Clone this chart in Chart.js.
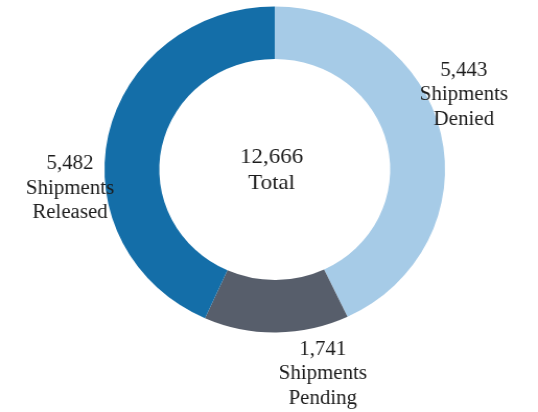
<!DOCTYPE html>
<html>
<head>
<meta charset="utf-8">
<script src="https://cdn.jsdelivr.net/npm/chart.js@4"></script>
<style>
    body { margin: 0; background: #fff; }
</style>
</head>
<body>
<canvas id="myChart" width="515" height="412" style="display:block;width:538px;height:412px"></canvas>
<script>
const categories = ['Shipments Denied', 'Shipments Pending', 'Shipments Released'];
const values = [5443, 1741, 5482];
const colors = ['#a6cbe7', '#575e6b', '#146ea8'];
const centerLabel = 'Total';

// label offsets from the ring centre, in canvas pixels
const labelOffsets = [[181, -74.5], [46, 204.5], [-196, 19]];

const total = values.reduce((a, b) => a + b, 0);
const fmt = n => n.toLocaleString('en-US');

const labelPlugin = {
    id: 'ringLabels',
    afterDraw(chart) {
        const c = chart.ctx;
        const arc = chart.getDatasetMeta(0).data[0];
        const cx = arc.x, cy = arc.y;
        c.save();
        c.fillStyle = '#1c1c1c';
        c.textAlign = 'center';
        c.textBaseline = 'middle';

        // centre text
        c.font = '22px "Liberation Serif"';
        c.fillText(fmt(total), cx - 3, cy - 12.5);
        c.fillText(centerLabel, cx - 3, cy + 13.5);

        // slice labels
        c.font = '20px "Liberation Serif"';
        categories.forEach((cat, i) => {
            const [dx, dy] = labelOffsets[i];
            const words = cat.split(' ');
            const lines = [fmt(values[i]), words[0], words[1]];
            lines.forEach((t, j) => {
                c.fillText(t, cx + dx, cy + dy + (j - 1) * 24.5);
            });
        });
        c.restore();
    }
};

new Chart(document.getElementById('myChart'), {
    type: 'doughnut',
    data: {
        labels: categories,
        datasets: [{
            data: values,
            backgroundColor: colors,
            borderWidth: 0
        }]
    },
    options: {
        responsive: false,
        animation: false,
        cutout: '67.8%',
        layout: { padding: { left: 100, right: 89, top: 6.5, bottom: 79.5 } },
        plugins: {
            legend: { display: false },
            tooltip: { enabled: false }
        }
    },
    plugins: [labelPlugin]
});
</script>
</body>
</html>
